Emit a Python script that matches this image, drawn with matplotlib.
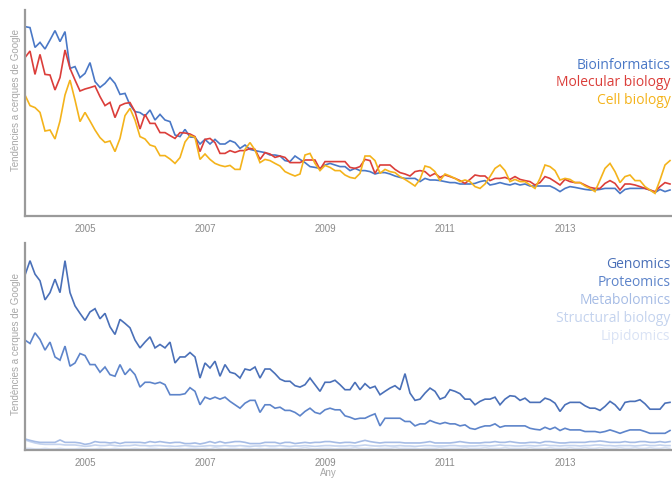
import numpy as np
import matplotlib
matplotlib.use("Agg")
import matplotlib.pyplot as plt

# months since Jan 2004
bioinformatics = [
    94.7, 94.2, 84.3, 86.8, 83.5, 88, 92.7, 87.2, 92.2, 73.8,
    74.7, 69.2, 71.3, 76.7, 67.2, 64.3, 66.3, 69.2, 66.3, 60.8,
    61.3, 55.5, 52.2, 51.7, 50, 53, 48, 50.8, 48, 47.2,
    40.5, 39.7, 43.3, 39.5,
    39.3, 36, 38.3, 36, 38.3, 36, 36, 37.7, 36.7, 33.8,
    35.5, 33.3, 32.7, 32.2, 31.7, 30.5, 30.5, 30, 27.7, 27.2,
    30, 28.3, 26.7, 24.7, 24.3, 23.8, 25.5, 26.3, 25.5, 24.7,
    24.7,
    22.7, 23.8, 22.7, 22.7, 22.2, 21, 21.7, 21.7, 21, 20,
    19.3, 18.8, 18.8, 18.8, 17.2, 18.8, 18, 18, 17.7, 17.2,
    16.7, 16.7, 16, 16, 16, 16.3, 17.2, 17.7, 15.5, 16,
    16.7, 16, 15.5,
    16.3, 15.5, 16, 15, 15, 15, 15, 15, 13.8, 12.2,
    13.8, 14.7, 14.3, 13.8, 13.3, 13, 13, 13.3, 13.8, 13.8,
    13.8, 11.3, 13.3, 13.8, 13.8, 13.8, 13.8, 13, 11.7, 13.3,
    12.2, 13,
]
molecular_biology = [
    79.2, 82.5, 70.8, 80.8, 70.8, 70.5, 63, 69.2, 83, 73.8,
    68, 62.5, 63.5, 64.2, 65, 59.7, 55.2, 56.8, 49.2, 55.2,
    56.3, 56.7, 52.2, 43.5, 50.8, 46.3, 46.3, 41.7, 41.7, 40.2,
    38.8, 41.7, 41.5, 41,
    39.7, 32.2, 38.3, 38.8, 36.7, 31.3, 31.3, 32.7, 31.8, 32.7,
    32.7, 33.8, 33.3, 28.3, 31.7, 31, 29.3, 30, 29.3, 26.7,
    26.7, 26.7, 28, 28, 28, 23.3, 27.2, 27.2, 27.2, 27.2,
    27.2,
    24.3, 23.8, 24.7, 28.3, 27.7, 21.3, 25.5, 25.5, 25.5, 23.3,
    21.7, 21, 20, 22.2, 22.7, 22.2, 20, 21.3, 19.3, 20.5,
    19.7, 18.8, 17.7, 16.3, 18.3, 20.5, 20, 20, 17.7, 18.8,
    18.8, 19.3, 18.3,
    19.7, 18.3, 17.7, 17.2, 15.5, 16.7, 19.7, 18.8, 17.2, 15.5,
    18.3, 17.2, 16.7, 16.7, 15.5, 14.3, 13.8, 13.8, 16.3, 17.7,
    16.3, 13, 16, 16, 15.5, 14.7, 13.8, 13, 12.2, 14.7,
    16.7, 16,
]
cell_biology = [
    60.5, 55.2, 54.2, 51.8, 42.5, 43, 38.5, 47.5, 60.5, 68,
    58, 47.2, 51.8, 47.5, 43, 39.2, 36.8, 37.5, 32.2, 38.8,
    50.2, 53.8, 48, 39.7, 38.5, 35.5, 34.7, 30.2, 30.2, 28.5,
    26.3, 29.2, 37, 40.3,
    39.3, 28.3, 31, 28.3, 26.3, 25.3, 24.7, 25.3, 23.3, 23.3,
    33.3, 36.7, 33, 26.7, 28.3, 27.7, 26.3, 25, 22.2, 21,
    20, 21, 30.5, 31.3, 26.3, 22.7, 25.3, 24.3, 22.7, 22.7,
    20.5,
    19.3, 18.8, 21.3, 30, 30, 27.7, 21.3, 23.3, 22.2, 21.7,
    19.7, 18.3, 16.7, 15, 18.3, 25, 24.3, 22.2, 17.7, 21,
    20, 18.8, 17.2, 18, 17.2, 14.7, 13.8, 16, 19.7, 23.8,
    25.5, 22.7, 17.2,
    18.3, 17.2, 17.2, 15.5, 13.8, 18.8, 25.5, 24.7, 22.7, 18,
    18.8, 18.3, 16.7, 16.7, 15, 13.8, 12.2, 18, 23.8, 26.3,
    22.2, 16.7, 19.7, 20.5, 17.7, 17.7, 14.7, 13, 11.3, 18,
    25.5, 27.7,
]

genomics = [
    87, 94.2, 87.5, 84.2, 74.7, 78.3, 85, 78.3, 94.2, 78.3,
    71.7, 68, 64.5, 68.7, 70.3, 65.3, 68, 61.3, 57.5, 65,
    63, 60.8, 54.7, 50.8, 53.7, 56.3, 50.8, 52.5, 50.8, 53.7,
    43.3, 46.3, 46.3, 48.5,
    46.3, 35.8, 43.3, 40.8, 44.2, 36.7, 42.5, 38.7, 38, 35.8,
    40.3, 39.7, 41.3, 35.8, 40.3, 40.3, 38, 35.3, 34.2, 34.2,
    32, 31.3, 32.5, 35.8, 32.5, 29.2, 33.7, 33.7, 34.7, 32.5,
    30,
    30, 33.7, 30, 33, 30.8, 31.7, 27.5, 29.2, 30.8, 32,
    30, 38, 28.3, 24.7, 25.3, 28.3, 30.8, 29.2, 25.3, 26.3,
    30, 29.2, 28, 25.3, 25.3, 22.5, 24.2, 25.3, 25.3, 26.3,
    22.5, 25.3, 27,
    26.7, 24.7, 25.8, 23.7, 23.7, 23.7, 25.8, 25, 23.3, 19.2,
    22.5, 23.7, 23.7, 23.7, 22, 20.8, 20.8, 19.7, 21.7, 24.2,
    22.5, 19.7, 23.7, 24.2, 24.2, 25, 23, 20.3, 20.3, 20.3,
    23.3, 23.7,
]
proteomics = [
    54.7, 53, 58.3, 55, 49.7, 53.7, 46.3, 44.7, 51.7, 41.7,
    43.3, 48, 47, 42.5, 42.5, 38.7, 41.3, 37.5, 36.7, 42.5,
    37.5, 40.3, 37.5, 31.3, 33.7, 33.7, 33, 33.7, 32.5, 27.5,
    27.5, 27.5, 28, 31,
    29.2, 22.5, 26.3, 25.3, 26.3, 25.3, 26.3, 24.2, 22.5, 20.8,
    23.3, 24.7, 24.7, 18.7, 22.5, 22.5, 20.8, 21.3, 19.7, 19.7,
    18.7, 17, 19.2, 20.8, 18.7, 18, 20, 20.8, 20, 20,
    17,
    16.3, 15.3, 15.8, 15.8, 17, 18, 12, 15.8, 15.8, 15.8,
    15.8, 14.2, 14.2, 12, 13, 13, 14.7, 13.7, 13, 13.7,
    13, 13, 12, 12.5, 10.8, 10.3, 11.3, 12, 12, 13,
    11.3, 12, 12,
    12, 12, 12, 10.8, 10.3, 10, 11.3, 10.3, 11.3, 9.7,
    10.8, 10, 10, 10, 9.2, 9.2, 9.2, 8.7, 9.2, 10,
    9.2, 8.3, 9.2, 10, 10, 10, 9.2, 8.3, 8.3, 8.3,
    8.3, 9.7,
]
metabolomics = [
    5.5, 4.8, 4.2, 3.8, 3.8, 3.8, 3.8, 5.0, 3.8, 3.8,
    3.8, 3.5, 2.8, 3.2, 4.2, 3.8, 3.8, 3.5, 3.8, 3.2,
    3.8, 3.8, 3.8, 3.8, 3.5, 4.2, 3.8, 4.2, 3.8, 3.5,
    3.8, 3.8, 3.2, 3.2, 3.5, 3.0, 3.5, 4.2, 3.5, 4.2,
    3.5, 3.8, 4.2, 4.2, 3.8, 3.2, 3.2, 3.2, 3.8, 3.8,
    3.8, 3.2, 3.8, 3.8, 3.2, 3.5, 3.8, 3.5, 3.8, 3.8,
    4.2, 4.2, 3.8, 3.5, 3.8, 3.8, 3.5, 4.2, 4.8, 4.2,
    3.8, 3.5, 3.8, 3.8, 3.8, 3.8, 3.5, 3.5, 3.5, 3.5,
    3.8, 4.2, 3.5, 3.5, 3.5, 3.5, 3.8, 4.2, 3.8, 3.5,
    3.5, 3.5, 3.8, 3.8, 4.2, 3.8, 3.8, 4.2, 3.8, 3.5,
    3.5, 3.8, 3.8, 3.5, 4.2, 4.2, 3.8, 3.5, 3.5, 3.8,
    3.8, 3.8, 3.8, 4.2, 4.2, 4.5, 4.2, 3.8, 3.8, 3.8,
    4.2, 3.8, 3.8, 4.2, 4.2, 3.8, 3.8, 4.2, 3.8, 4.2,
]
structural_biology = [
    5.0, 4.2, 3.5, 3.0, 2.8, 2.8, 2.8, 2.8, 2.5, 2.5,
    2.5, 2.2, 1.8, 2.0, 2.5, 2.2, 2.2, 2.5, 2.2, 2.0,
    2.2, 2.2, 2.5, 2.2, 2.2, 2.0, 2.2, 2.2, 2.0, 2.0,
    1.8, 2.0, 2.2, 2.0, 1.8, 1.8, 2.0, 2.2, 2.0, 2.0,
    2.2, 2.0, 2.0, 2.2, 2.0, 1.8, 2.0, 2.0, 2.2, 2.0,
    2.0, 2.2, 2.0, 1.8, 2.0, 2.0, 2.2, 2.0, 1.8, 2.0,
    2.2, 2.2, 2.0, 2.0, 2.0, 2.2, 2.0, 2.2, 2.5, 2.2,
    2.0, 2.0, 2.2, 2.0, 2.0, 2.2, 2.0, 2.0, 1.8, 2.0,
    2.2, 2.2, 2.0, 2.0, 2.0, 2.2, 2.2, 2.0, 2.0, 2.0,
    2.0, 2.2, 2.2, 2.0, 2.2, 2.5, 2.2, 2.2, 2.0, 2.0,
    2.2, 2.2, 2.0, 2.2, 2.5, 2.2, 2.2, 2.0, 2.2, 2.2,
    2.2, 2.0, 2.2, 2.2, 2.5, 2.5, 2.2, 2.2, 2.0, 2.2,
    2.2, 2.2, 2.0, 2.2, 2.5, 2.2, 2.2, 2.5, 2.2, 2.2,
]
lipidomics = [
    0.8, 0.8, 0.5, 0.5, 0.8, 0.5, 0.5, 0.8, 0.5, 0.5,
    0.5, 0.8, 0.5, 0.5, 0.5, 0.8, 0.5, 0.5, 0.8, 0.5,
    0.5, 0.5, 0.8, 0.5, 0.5, 0.8, 0.8, 0.5, 0.5, 0.8,
    0.5, 0.8, 0.5, 0.8, 0.8, 0.5, 0.8, 0.5, 1.2, 0.8,
    0.5, 0.8, 0.8, 0.5, 0.8, 0.8, 0.5, 0.8, 0.5, 0.8,
    0.8, 0.5, 0.8, 0.8, 0.5, 0.8, 1.2, 0.8, 0.5, 0.8,
    0.8, 0.8, 0.5, 0.8, 0.8, 0.8, 1.2, 0.8, 0.8, 0.8,
    0.5, 0.8, 0.8, 0.8, 1.2, 0.8, 0.8, 0.8, 0.8, 0.5,
    0.8, 0.8, 0.8, 1.2, 0.8, 0.8, 0.8, 0.8, 1.2, 0.8,
    0.8, 0.8, 1.2, 0.8, 0.8, 0.8, 1.2, 0.8, 0.8, 0.8,
    0.8, 1.2, 0.8, 0.8, 0.8, 1.2, 0.8, 0.8, 0.8, 1.2,
    0.8, 0.8, 1.2, 0.8, 0.8, 1.2, 0.8, 0.8, 0.8, 1.2,
    0.8, 0.8, 1.2, 0.8, 0.8, 1.2, 0.8, 0.8, 1.2, 0.8,
]

year_ticks = [12, 36, 60, 84, 108]
year_labels = ["2005", "2007", "2009", "2011", "2013"]

top_series = [
    ("Bioinformatics", bioinformatics, "#4a78c6"),
    ("Molecular biology", molecular_biology, "#db3e3a"),
    ("Cell biology", cell_biology, "#f4b31b"),
]
bottom_series = [
    ("Genomics", genomics, "#4a70b8"),
    ("Proteomics", proteomics, "#5d84ca"),
    ("Metabolomics", metabolomics, "#a6bce5"),
    ("Structural biology", structural_biology, "#c4d3ee"),
    ("Lipidomics", lipidomics, "#dae3f5"),
]

W, H = 672, 479
fig = plt.figure(figsize=(W / 100, H / 100), dpi=100)

def px_axes(x0, y0, x1, y1):
    return fig.add_axes([x0 / W, 1 - y1 / H, (x1 - x0) / W, (y1 - y0) / H])

def style(ax):
    for s in ("top", "right"):
        ax.spines[s].set_visible(False)
    for s in ("left", "bottom"):
        ax.spines[s].set_color("#9a9a9a")
        ax.spines[s].set_linewidth(1.6)
    ax.set_xlim(0, 129.4)
    ax.set_ylim(0, 103)
    ax.set_yticks([])
    ax.set_xticks(year_ticks)
    ax.set_xticklabels(year_labels)
    ax.tick_params(axis="x", length=0, pad=6, labelsize=7, labelcolor="#8a8a8a")
    for t in ax.get_xticklabels():
        t.set_family("Liberation Sans")

ax1 = px_axes(25, 10, 672, 216)
ax2 = px_axes(25, 243, 672, 450)

for ax, series in ((ax1, top_series), (ax2, bottom_series[::-1])):
    for name, vals, col in series:
        ax.plot(np.arange(len(vals)), vals, color=col, lw=1.2, solid_joinstyle="miter")
    style(ax)

def legend(series, baselines):
    for (name, vals, col), yb in zip(series, baselines):
        fig.text(670.5 / W, 1 - yb / H, name, color=col, ha="right", va="baseline",
                 fontsize=10, family="Open Sans")

legend(top_series, [69, 86.5, 104])
legend(bottom_series, [268, 286, 304, 322, 340])

for yc in (100, 344):
    fig.text(16 / W, 1 - yc / H, "Tendències a cerques de Google", rotation=90,
             ha="center", va="center", fontsize=7, color="#a8a8a8",
             family="Liberation Sans")

fig.text(328 / W, 1 - 473.5 / H, "Any", ha="center", va="center", fontsize=7,
         color="#a8a8a8", family="Liberation Sans")

fig.savefig("out.png", dpi=100)
